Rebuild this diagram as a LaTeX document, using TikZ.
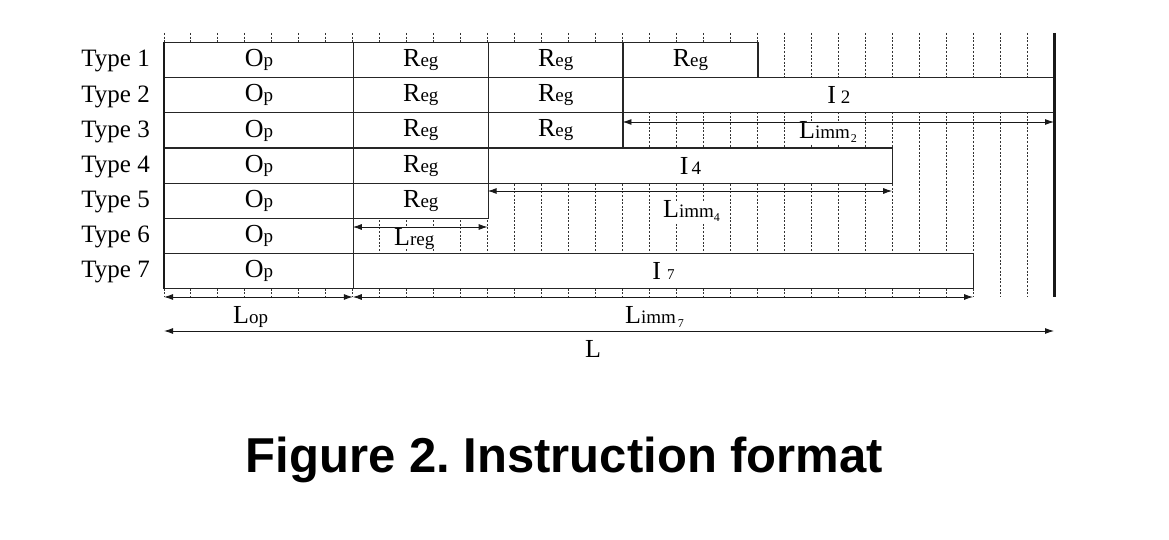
\documentclass[tikz,border=0pt]{standalone}
\usepackage{fontspec}
\setmainfont{Liberation Serif}
\newfontfamily\capfont{Liberation Sans}
\usetikzlibrary{arrows.meta}
\frenchspacing
\newcommand\xB[1]{{\fontsize{26}{26}\selectfont #1}}
\newcommand\xS[1]{{\fontsize{19}{19}\selectfont #1}}
\newcommand\xT[1]{\raisebox{-4pt}{\fontsize{12}{12}\selectfont #1}}
\newcommand\cellbox[5]{%
  \node[cellst, minimum width={(#4-#3)*26.97pt}, anchor=north west] (#1)
    at ({164+26.97*#3},{42+35.14*(#2-1)}) {#5};}
\tikzset{
  cellst/.style={draw=black!85, line width=1.2pt, fill=white, inner sep=0pt,
    minimum height=35.14pt},
  gridl/.style={line width=1pt, dash pattern=on 2pt off 1.6pt, black!80},
  dim/.style={{Latex[length=9pt,width=6pt]}-{Latex[length=9pt,width=6pt]}, line width=0.9pt, black!90},
  lbl/.style={fill=white, inner sep=0pt, anchor=base west},
  typel/.style={anchor=base east, inner sep=0pt, font=\fontsize{25}{25}\selectfont},
  thick1/.style={line width=2.6pt, black!90}
}
\begin{document}
\begin{tikzpicture}[x=1pt,y=-1pt]
\useasboundingbox (0,0) rectangle (1169,540);
% dotted grid
\foreach \k in {0,...,33}
  \draw[gridl] ({164+26.97*\k},33) -- ({164+26.97*\k},297);
% type labels
\foreach \r in {1,...,7}
  \node[typel] (t\r) at (150,{67+35.14*(\r-1)}) {Type \r};
% rows
\cellbox{c1o}{1}{0}{7}{\xB{O}\xS{p}}
\cellbox{c1a}{1}{7}{12}{\xB{R}\xS{eg}}
\cellbox{c1b}{1}{12}{17}{\xB{R}\xS{eg}}
\cellbox{c1c}{1}{17}{22}{\xB{R}\xS{eg}}
\cellbox{c2o}{2}{0}{7}{\xB{O}\xS{p}}
\cellbox{c2a}{2}{7}{12}{\xB{R}\xS{eg}}
\cellbox{c2b}{2}{12}{17}{\xB{R}\xS{eg}}
\cellbox{c2i}{2}{17}{33}{\xB{I}\hspace{5pt}\xS{2}}
\cellbox{c3o}{3}{0}{7}{\xB{O}\xS{p}}
\cellbox{c3a}{3}{7}{12}{\xB{R}\xS{eg}}
\cellbox{c3b}{3}{12}{17}{\xB{R}\xS{eg}}
\cellbox{c4o}{4}{0}{7}{\xB{O}\xS{p}}
\cellbox{c4a}{4}{7}{12}{\xB{R}\xS{eg}}
\cellbox{c4i}{4}{12}{27}{\xB{I}\hspace{3pt}\xS{4}}
\cellbox{c5o}{5}{0}{7}{\xB{O}\xS{p}}
\cellbox{c5a}{5}{7}{12}{\xB{R}\xS{eg}}
\cellbox{c6o}{6}{0}{7}{\xB{O}\xS{p}}
\cellbox{c7o}{7}{0}{7}{\xB{O}\xS{p}}
\cellbox{c7i}{7}{7}{30}{\xB{I}\hspace{6pt}{\fontsize{15}{15}\selectfont 7}}
% thick border lines
\draw[thick1] (c1o.north west) -- (c7o.south west);
\coordinate (rtop) at ({164+26.97*33},33);
\coordinate (rbot) at ({164+26.97*33},297);
\draw[line width=3pt, black!90] (rtop) -- (rbot);
% labels (under the arrows)
\node[lbl] (l2) at (799,139) {\xB{L}\xS{imm}\hspace{1pt}\xT{2}};
\node[lbl] (l4) at (663,218) {\xB{L}\xS{imm}\xT{4}};
\node[lbl] (lr) at (394,245) {\xB{L}\xS{reg}};
\node[lbl] (lo) at (233,323) {\xB{L}\xS{op}};
\node[lbl] (l7) at (625,323) {\xB{L}\xS{imm}\hspace{2pt}\xT{7}};
\node[lbl] (ll) at (585,357) {\xB{L}};
% dimension arrows
\coordinate (a2l) at ({164+26.97*17},122);
\coordinate (a2r) at ({164+26.97*33},122);
\coordinate (a4l) at ({164+26.97*12},191);
\coordinate (a4r) at ({164+26.97*27},191);
\coordinate (arl) at ({164+26.97*7},227);
\coordinate (arr) at ({164+26.97*12},227);
\coordinate (aol) at ({164},297);
\coordinate (aor) at ({164+26.97*7},297);
\coordinate (a7l) at ({164+26.97*7},297);
\coordinate (a7r) at ({164+26.97*30},297);
\coordinate (all) at ({164},331);
\coordinate (alr) at ({164+26.97*33},331);
\draw[dim] (a2l) -- (a2r);
\draw[dim] (a4l) -- (a4r);
\draw[dim] (arl) -- (arr);
\draw[dim] (aol) -- (aor);
\draw[dim] (a7l) -- (a7r);
\draw[dim] (all) -- (alr);
% caption
\node[anchor=base, inner sep=0pt] (cap) at (564.5,472)
  {\capfont\bfseries\fontsize{49}{49}\selectfont Figure 2. Instruction format};
\end{tikzpicture}
\end{document}
